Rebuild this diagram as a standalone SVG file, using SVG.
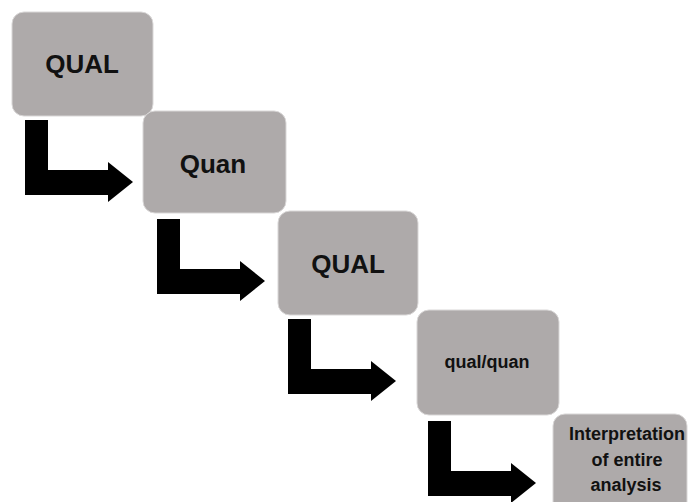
<svg xmlns="http://www.w3.org/2000/svg" xmlns:xlink="http://www.w3.org/1999/xlink" width="688" height="502" viewBox="0 0 688 502">
  <style>
    .box { fill: #aeaaaa; stroke: #d9d7d7; stroke-width: 1; }
    .lbl { font-family: "Liberation Sans", Arial, sans-serif; font-weight: bold; fill: #111; text-anchor: middle; }
    .big { font-size: 26px; }
    .small { font-size: 18px; }
    .arrow { fill: #000; }
  </style>
  <defs>
    <!-- bent (down then right) block arrow, origin at top-left of the stem -->
    <path id="bentArrow" class="arrow" d="M0 0 h23 v50 h60 v-8 l25 20 l-25 20 v-7 h-83 z"/>
  </defs>
  <rect width="688" height="502" fill="#fff"/>

  <g id="connectors">
    <use xlink:href="#bentArrow" href="#bentArrow" x="25" y="120"/>
    <use xlink:href="#bentArrow" href="#bentArrow" x="157" y="219"/>
    <use xlink:href="#bentArrow" href="#bentArrow" x="288" y="319"/>
    <use xlink:href="#bentArrow" href="#bentArrow" x="428" y="421"/>
  </g>

  <g id="qual1">
    <rect class="box" x="12" y="12" width="141" height="104" rx="12"/>
    <text class="lbl big" x="82" y="73">QUAL</text>
  </g>
  <g id="quan">
    <rect class="box" x="143" y="111" width="143" height="102" rx="12"/>
    <text class="lbl big" x="213" y="173">Quan</text>
  </g>
  <g id="qual2">
    <rect class="box" x="278" y="211" width="140" height="104" rx="12"/>
    <text class="lbl big" x="348" y="273">QUAL</text>
  </g>
  <g id="qualquan">
    <rect class="box" x="417" y="310" width="142" height="105" rx="12"/>
    <text class="lbl small" x="487" y="368">qual/quan</text>
  </g>
  <g id="interpretation">
    <rect class="box" x="553" y="414" width="134" height="100" rx="12"/>
    <text class="lbl small" x="627" y="440">Interpretation</text>
    <text class="lbl small" x="627" y="466">of entire</text>
    <text class="lbl small" x="626" y="491">analysis</text>
  </g>
</svg>
